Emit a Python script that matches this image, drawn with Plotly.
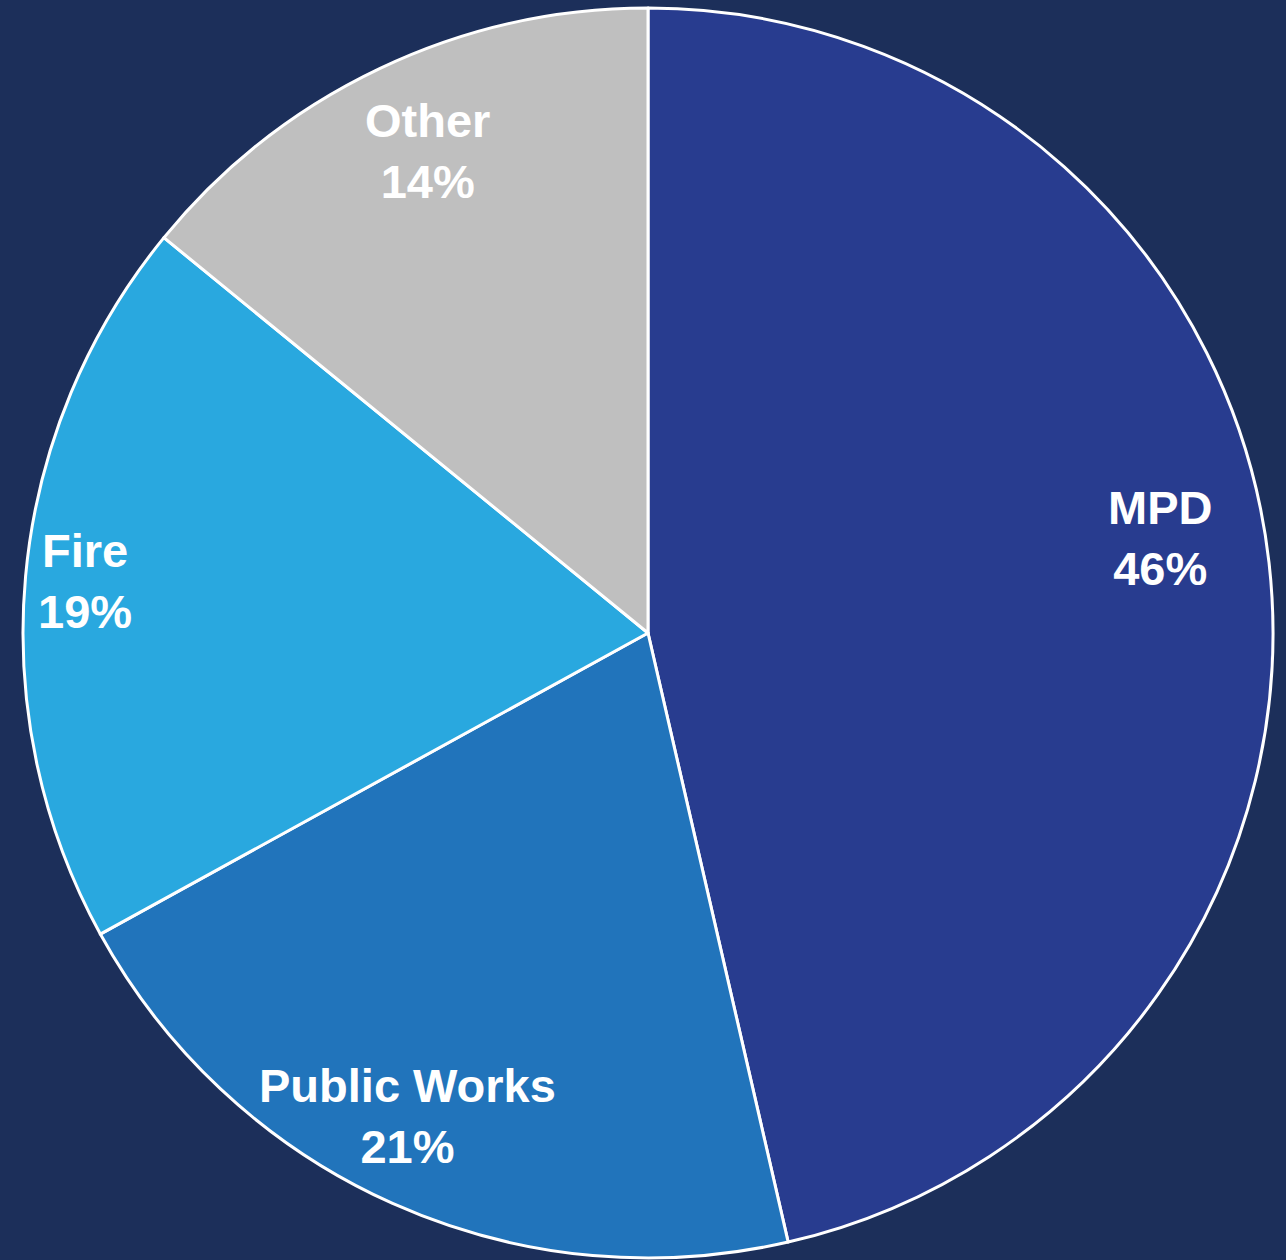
import plotly.graph_objects as go

labels = ["MPD", "Public Works", "Fire", "Other"]
values = [46.4, 20.6, 18.9, 14.1]
colors = ["#283c8f", "#2174bb", "#29a8df", "#bfbfbf"]

# label text positions (paper coordinates)
label_x = [0.909, 0.308, 0.050, 0.324]
label_y = [0.576, 0.114, 0.542, 0.886]

BG = "#1c2f5a"

fig = go.Figure(go.Pie(
    labels=labels,
    values=values,
    sort=False,
    direction="clockwise",
    rotation=0,
    marker=dict(colors=colors, line=dict(color="white", width=3)),
    textinfo="none",
    hoverinfo="label+percent",
    showlegend=False,
))

total = sum(values)
for lab, v, x, y in zip(labels, values, label_x, label_y):
    fig.add_annotation(
        x=x, y=y, xref="paper", yref="paper",
        text=f"{lab}<br>{round(v / total * 100)}%",
        showarrow=False,
        xanchor="center", yanchor="middle",
        font=dict(family="Liberation Sans, Arial, sans-serif", size=47,
                  color="white", weight="bold"),
    )

fig.update_layout(
    width=1286, height=1260,
    margin=dict(l=22, r=12, t=8, b=2),
    paper_bgcolor=BG,
    plot_bgcolor=BG,
    font=dict(family="Liberation Sans, Arial, sans-serif", color="white"),
)

fig.write_html(
    "out.html",
    config={"displayModeBar": False},
    post_script=f"document.body.style.margin='0';document.body.style.background='{BG}';",
)
